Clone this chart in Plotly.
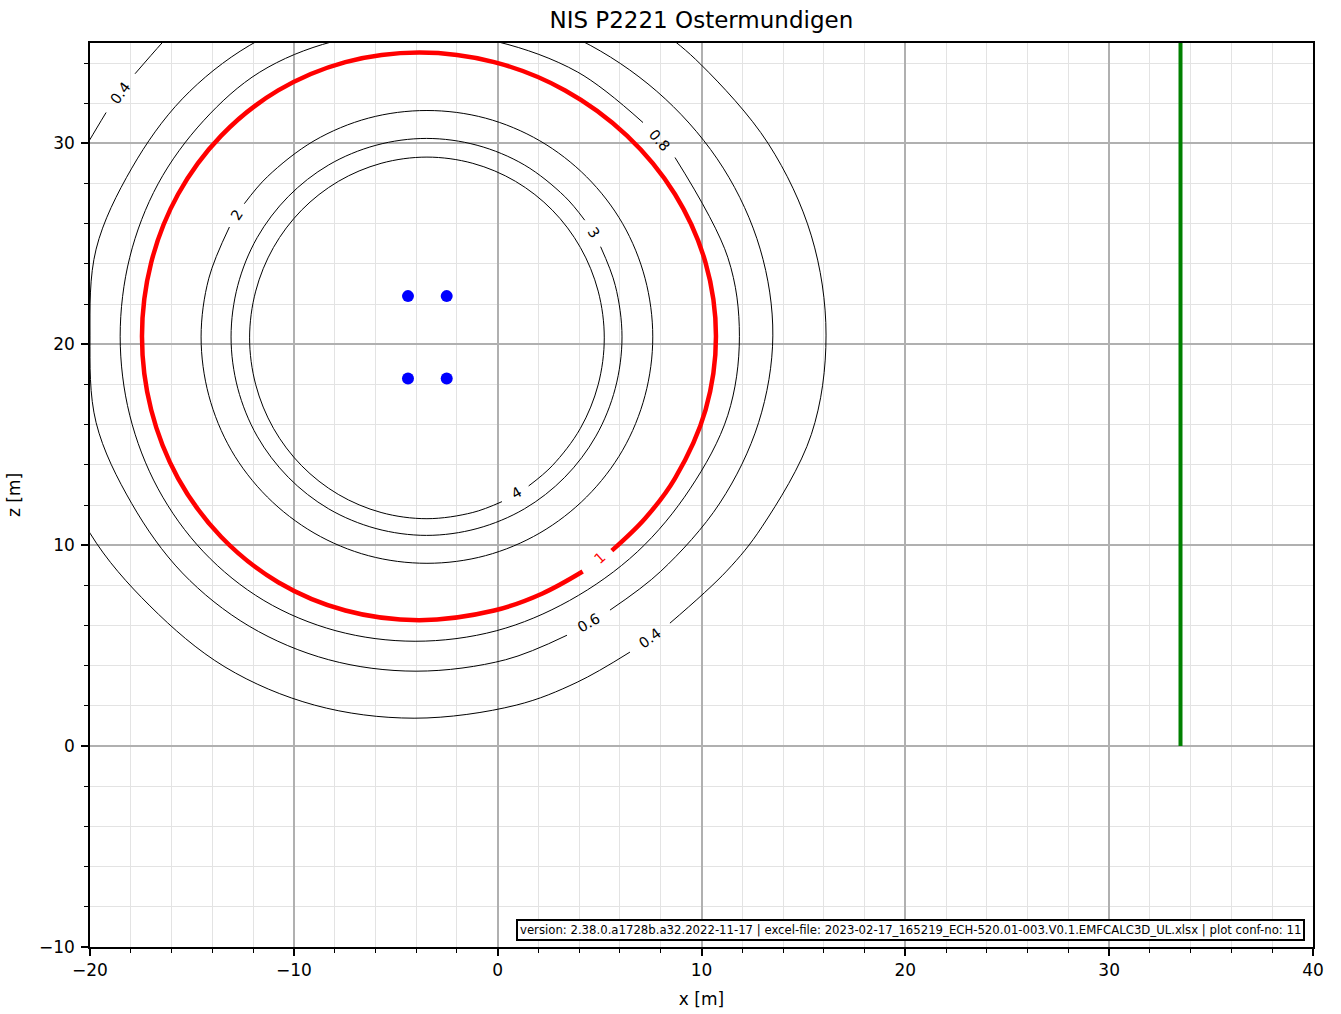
import plotly.graph_objects as go

TITLE = "NIS P2221 Ostermundigen"
FOOTER = ("version: 2.38.0.a1728b.a32.2022-11-17 | excel-file: "
          "2023-02-17_165219_ECH-520.01-003.V0.1.EMFCALC3D_UL.xlsx | plot conf-no: 11")

x_ticks = [-20, -10, 0, 10, 20, 30, 40]
z_ticks = [-10, 0, 10, 20, 30]

# conductor positions [m]
conductor_x = [-4.4, -2.5, -4.4, -2.5]
conductor_z = [22.4, 22.4, 18.3, 18.3]

# building / boundary line
boundary_x = [33.5, 33.5]
boundary_z = [0.0, 36.0]

# iso-lines (None = gap for the inline label)
c4_x = [1.52, 2.68, 4.06, 4.93, 5.23, 4.93, 4.06, 2.68, 0.88, -1.22, -3.47, -5.72, -7.82,
        -9.62, -11.00, -11.87, -12.17, -11.87, -11.00, -9.62, -7.82, -5.72, -3.47, -1.22, 0.21]
c4_z = [12.95, 13.96, 15.82, 17.99, 20.32, 22.65, 24.82, 26.68, 28.11, 29.01, 29.32, 29.01, 28.11,
        26.68, 24.82, 22.65, 20.32, 17.99, 15.82, 13.96, 12.53, 11.63, 11.32, 11.63, 12.17]

c3_x = [4.27, 3.29, 1.31, -1.01, -3.49, -5.97, -8.29, -10.27, -11.80, -12.75, -13.08, -12.75,
        -11.80, -10.27, -8.29, -5.97, -3.49, -1.01, 1.31, 3.29, 4.82, 5.77, 6.10, 5.77, 5.05]
c3_z = [26.18, 27.36, 28.93, 29.91, 30.25, 29.91, 28.93, 27.36, 25.31, 22.93, 20.37, 17.81,
        15.43, 13.38, 11.81, 10.83, 10.49, 10.83, 11.81, 13.38, 15.43, 17.81, 20.37, 22.93, 24.86]

c2_x = [-13.16, -14.17, -14.55, -14.17, -13.07, -11.30, -9.01, -6.34, -3.47, -0.60, 2.07, 4.36,
        6.13, 7.23, 7.61, 7.23, 6.13, 4.36, 2.07, -0.60, -3.47, -6.34, -9.01, -11.30, -12.43]
c2_z = [25.84, 23.29, 20.37, 17.45, 14.73, 12.40, 10.61, 9.48, 9.10, 9.48, 10.61, 12.40,
        14.73, 17.45, 20.37, 23.29, 26.01, 28.34, 30.13, 31.26, 31.64, 31.26, 30.13, 28.34, 27.00]

c1_x = [5.60, 7.22, 8.70, 10.20, 10.71, 10.20, 8.70, 6.34, 3.31, -0.17, -3.85, -7.47, -10.77,
        -13.56, -15.68, -17.00, -17.45, -17.00, -15.68, -13.56, -10.77, -7.47, -3.85, -0.17,
        2.20, 4.17]
c1_z = [9.73, 11.32, 13.33, 16.74, 20.40, 24.06, 27.47, 30.39, 32.64, 34.05, 34.53, 34.05, 32.64,
        30.39, 27.47, 24.06, 20.40, 16.74, 13.33, 10.41, 8.16, 6.75, 6.27, 6.75, 7.60, 8.69]

c08_x = [8.70, 11.29, 11.86, 11.29, 9.44, 6.85, 3.53, -0.07, -4.05, -7.93, -11.47, -14.43,
         -16.66, -18.05, -18.52, -18.05, -16.66, -14.43, -11.67, -8.13, -4.05, 0.00, 3.93, 7.13]
c08_z = [29.30, 24.33, 20.40, 16.47, 12.81, 9.67, 7.25, 5.74, 5.22, 5.74, 7.25, 9.67,
         12.81, 16.47, 20.40, 24.33, 27.99, 31.13, 33.55, 35.06, 35.58, 35.06, 33.55, 31.04]

c06_x = [5.51, 8.00, 10.90, 12.80, 13.50, 12.88, 11.07, 8.22, 4.57, 0.39, -4.00, -8.29, -12.19,
         -15.47, -17.95, -19.70, -20.00, -19.70, -17.95, -15.47, -12.19, -8.29, -4.00, 0.39, 3.40]
c06_z = [6.77, 8.70, 12.10, 16.10, 20.42, 24.74, 28.77, 32.22, 34.87, 36.54, 37.11, 36.54, 34.87,
         32.22, 28.77, 24.74, 20.42, 16.10, 12.07, 8.62, 5.97, 4.30, 3.73, 4.30, 5.52]

c04_x = [-20.9, -20.0, -19.21, None, -17.79, -16.47, -15.20, None,
         5.73, 8.00, 9.96, 13.27, 15.39, 16.11, 15.39, 12.97, 11.23, 8.45, None,
         6.49, 3.90, 0.91, -4.10, -8.98, -13.38, -17.06, -20.00, -22.10]
c04_z = [28.6, 30.2, 31.54, None, 33.47, 35.00, 36.40, None,
         36.98, 35.60, 33.94, 30.00, 25.40, 20.46, 15.52, 10.92, 8.71, 6.12, None,
         4.68, 3.18, 2.04, 1.39, 2.04, 3.94, 6.98, 10.60, 15.50]

contours = [
    ("0.4", c04_x, c04_z),
    ("0.6", c06_x, c06_z),
    ("0.8", c08_x, c08_z),
    ("1", c1_x, c1_z),
    ("2", c2_x, c2_z),
    ("3", c3_x, c3_z),
    ("4", c4_x, c4_z),
]

# inline contour labels: text, x, z, rotation
labels = [
    ("4", 0.92, 12.60, -30),
    ("3", 4.72, 25.55, 57),
    ("2", -12.80, 26.45, -57),
    ("1", 5.00, 9.38, -42),
    ("0.8", 7.92, 30.17, 48),
    ("0.6", 4.45, 6.15, -30),
    ("0.4", -18.50, 32.50, -53),
    ("0.4", 7.47, 5.40, -36),
]

FONT = "DejaVu Sans, Liberation Sans, sans-serif"

fig = go.Figure()

for name, xs, zs in contours:
    is_limit = name == "1"
    fig.add_trace(go.Scatter(
        x=xs, y=zs, mode="lines", name=name,
        line=dict(color="#ff0000" if is_limit else "black",
                  width=4.5 if is_limit else 1.0,
                  shape="spline", smoothing=1.0),
        connectgaps=False, hoverinfo="skip", showlegend=False))

fig.add_trace(go.Scatter(
    x=boundary_x, y=boundary_z, mode="lines",
    line=dict(color="#008000", width=4), showlegend=False))

fig.add_trace(go.Scatter(
    x=conductor_x, y=conductor_z, mode="markers",
    marker=dict(color="#0000ff", size=12), showlegend=False))

for txt, lx, lz, ang in labels:
    fig.add_annotation(
        x=lx, y=lz, xref="x", yref="y", text=txt, showarrow=False,
        textangle=ang,
        font=dict(family=FONT, size=14.5,
                  color="#ff0000" if txt == "1" else "black"))

fig.add_annotation(
    xref="paper", yref="paper", x=1, y=0, xanchor="right", yanchor="bottom",
    xshift=-8, yshift=6, text=FOOTER, showarrow=False,
    font=dict(family=FONT, size=11.7, color="black"),
    bgcolor="white", bordercolor="black", borderwidth=2, borderpad=2)

axis_common = dict(
    showgrid=True, gridcolor="#b0b0b0", gridwidth=1.5,
    ticks="outside", ticklen=7, tickwidth=1.5, tickcolor="black",
    showline=True, linecolor="black", linewidth=1.5, mirror=True,
    zeroline=False, automargin=False,
    tickfont=dict(family=FONT, size=17, color="black"),
    minor=dict(dtick=2, ticks="outside", ticklen=4, tickwidth=1,
               tickcolor="black", showgrid=True, gridcolor="#e3e3e3",
               gridwidth=1),
)

fig.update_layout(
    width=1341, height=1014,
    margin=dict(l=90, r=28, t=43, b=67),
    paper_bgcolor="white", plot_bgcolor="white",
    title=dict(text=TITLE, x=0.523, xanchor="center", y=0.98, yanchor="middle",
               font=dict(family=FONT, size=23, color="black")),
    xaxis=dict(range=[-20, 40], tickvals=x_ticks, tick0=0,
               title=dict(text="x [m]", standoff=14,
                          font=dict(family=FONT, size=17, color="black")),
               **axis_common),
    yaxis=dict(range=[-10, 35], tickvals=z_ticks, tick0=0, ticklabelstandoff=3,
               title=dict(text="z [m]", standoff=14,
                          font=dict(family=FONT, size=17, color="black")),
               **axis_common),
)

fig.write_html("out.html")
